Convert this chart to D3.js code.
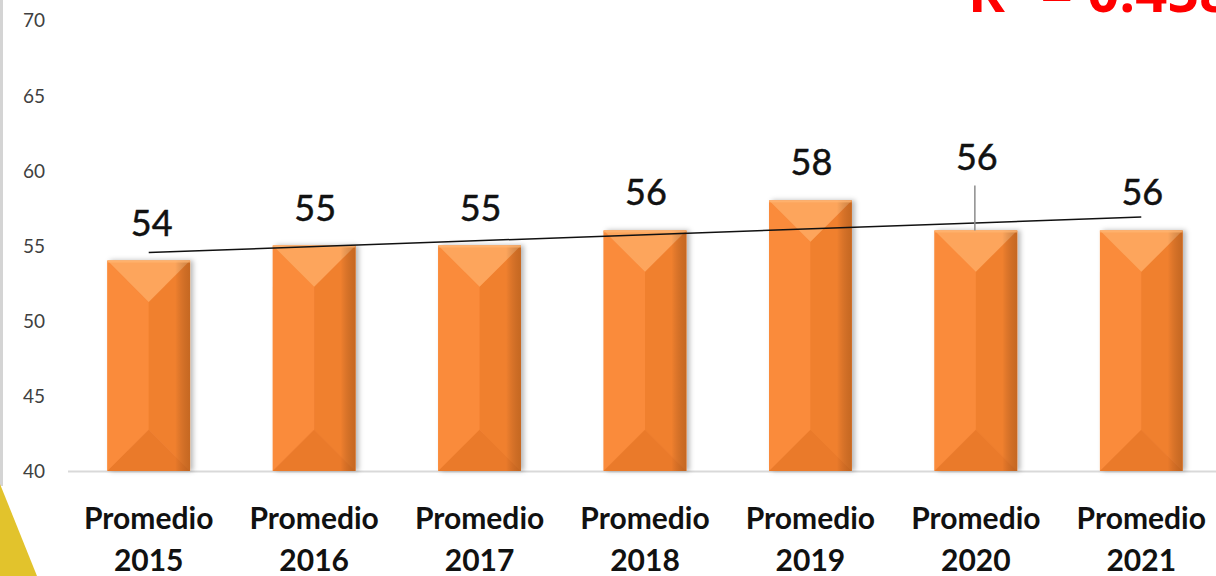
<!DOCTYPE html>
<html>
<head>
<meta charset="utf-8">
<script src="https://cdn.jsdelivr.net/npm/d3@7/dist/d3.min.js"></script>
<style>
  html, body { margin: 0; padding: 0; background: #ffffff; }
  svg { display: block; }
</style>
</head>
<body>
<svg id="chart" width="1216" height="576"></svg>
<script>
// ---- data ----
const categories = ["Promedio 2015", "Promedio 2016", "Promedio 2017", "Promedio 2018", "Promedio 2019", "Promedio 2020", "Promedio 2021"];
const values = [54, 55, 55, 56, 58, 56, 56];
const yTicks = [40, 45, 50, 55, 60, 65, 70];
const yDomain = [40, 70];
const raisedLabelCategory = "Promedio 2020";

// ---- setup ----
const W = 1216, H = 576;
const svg = d3.select("#chart");
const defs = svg.append("defs");

const x = d3.scaleBand().domain(categories).range([66, 1224]).paddingInner(0.5).paddingOuter(0.25);
const y = d3.scaleLinear().domain(yDomain).range([471, 20]);

// decorations: left gray strip and yellow triangle
svg.append("rect").attr("x", 0).attr("y", 0).attr("width", 3).attr("height", 486).attr("fill", "#d4d4d4");
svg.append("polygon").attr("points", "0,484 37,576 0,576").attr("fill", "#e2c32c");

// shadow filter
const f = defs.append("filter").attr("id", "shadow").attr("x", "-20%").attr("y", "-10%").attr("width", "150%").attr("height", "120%");
f.append("feDropShadow").attr("dx", 3).attr("dy", 0).attr("stdDeviation", 2.5).attr("flood-color", "#000").attr("flood-opacity", 0.28);

// right-edge darkening gradient
const g = defs.append("linearGradient").attr("id", "edge").attr("x1", "0").attr("x2", "1").attr("y1", "0").attr("y2", "0");
g.append("stop").attr("offset", "0").attr("stop-color", "#000").attr("stop-opacity", 0.0);
g.append("stop").attr("offset", "0.82").attr("stop-color", "#000").attr("stop-opacity", 0.0);
g.append("stop").attr("offset", "1").attr("stop-color", "#5a2a00").attr("stop-opacity", 0.28);

// y axis tick labels
const yAxis = d3.axisLeft(y).tickValues(yTicks).tickSize(0).tickPadding(0);
const ya = svg.append("g").attr("transform", "translate(45,0)").call(yAxis);
ya.select(".domain").remove();
ya.selectAll("text").attr("font-family", "Lato, 'Open Sans', sans-serif").attr("font-size", 19).attr("fill", "#404040").attr("dy", "0.36em");

// baseline
svg.append("line").attr("x1", 68).attr("x2", W).attr("y1", 471.5).attr("y2", 471.5).attr("stroke", "#d9d9d9").attr("stroke-width", 2.2);

// bars
const bars = svg.append("g").selectAll("g.bar").data(categories).join("g").attr("class", "bar");
bars.each(function(c, i) {
  const gb = d3.select(this);
  const x0 = x(c), bw = x.bandwidth(), x1 = x0 + bw, xm = x0 + bw / 2;
  const yt = y(values[i]), yb = y(yDomain[0]);
  const d = bw / 2;
  const g2 = gb.append("g").attr("filter", "url(#shadow)");
  g2.append("rect").attr("x", x0).attr("y", yt).attr("width", bw).attr("height", yb - yt).attr("fill", "#f7893a");
  g2.append("polygon").attr("points", [[x0, yt], [xm, yt + d], [xm, yb - d], [x0, yb]].join(" ")).attr("fill", "#fa8b3b");
  g2.append("polygon").attr("points", [[x1, yt], [xm, yt + d], [xm, yb - d], [x1, yb]].join(" ")).attr("fill", "#f0802f");
  g2.append("polygon").attr("points", [[x0, yt], [x1, yt], [xm, yt + d]].join(" ")).attr("fill", "#fda55c");
  g2.append("polygon").attr("points", [[x0, yb], [x1, yb], [xm, yb - d]].join(" ")).attr("fill", "#ea7a2c");
  gb.append("rect").attr("x", x0).attr("y", yt).attr("width", bw).attr("height", yb - yt).attr("fill", "url(#edge)");
  gb.append("rect").attr("x", x0).attr("y", yt).attr("width", bw).attr("height", 2).attr("fill", "#ffb673").attr("opacity", 0.7);
});

// trendline (linear regression)
const n = values.length;
const xs = d3.range(1, n + 1);
const mx = d3.mean(xs), my = d3.mean(values);
const sxy = d3.sum(xs, (v, i) => (v - mx) * (values[i] - my));
const sxx = d3.sum(xs, v => (v - mx) * (v - mx));
const syy = d3.sum(values, v => (v - my) * (v - my));
const slope = sxy / sxx, intercept = my - slope * mx;
const r2 = (sxy * sxy) / (sxx * syy);
const cx = c => x(c) + x.bandwidth() / 2;
svg.append("line")
  .attr("x1", cx(categories[0])).attr("y1", y(intercept + slope * 1))
  .attr("x2", cx(categories[n - 1])).attr("y2", y(intercept + slope * n))
  .attr("stroke", "#111").attr("stroke-width", 1.5);

// value labels
categories.forEach((c, i) => {
  const raised = c === raisedLabelCategory;
  const base = y(values[i]) - 25 - (raised ? 35 : 0);
  if (raised) {
    svg.append("line").attr("x1", cx(c) - 1).attr("x2", cx(c) - 1).attr("y1", base + 15).attr("y2", y(values[i]))
      .attr("stroke", "#8c8c8c").attr("stroke-width", 1.5);
  }
  svg.append("text").attr("x", cx(c) + (i === 0 ? 3 : 1)).attr("y", base)
    .attr("text-anchor", "middle").attr("font-family", "Lato, 'Open Sans', sans-serif")
    .attr("font-size", 36).attr("stroke", "#111").attr("stroke-width", 0.5)
    .attr("fill", "#111").text(values[i]);
});

// category labels
const xl = svg.append("g");
categories.forEach(c => {
  const parts = c.split(" ");
  const t = xl.append("text").attr("text-anchor", "middle").attr("font-family", "Lato, 'Open Sans', sans-serif")
    .attr("font-weight", "bold").attr("font-size", 30).attr("fill", "#111");
  t.append("tspan").attr("x", cx(c)).attr("y", 529).text(parts[0]);
  t.append("tspan").attr("x", cx(c)).attr("y", 571).text(parts[1]);
});

// R² label (clipped at the top)
svg.append("text").attr("x", 968).attr("y", 12)
  .attr("font-family", "'Open Sans', Lato, sans-serif").attr("font-weight", "bold").attr("font-size", 56)
  .attr("fill", "#ff0000").text("R² = " + r2.toFixed(4));
</script>
</body>
</html>
